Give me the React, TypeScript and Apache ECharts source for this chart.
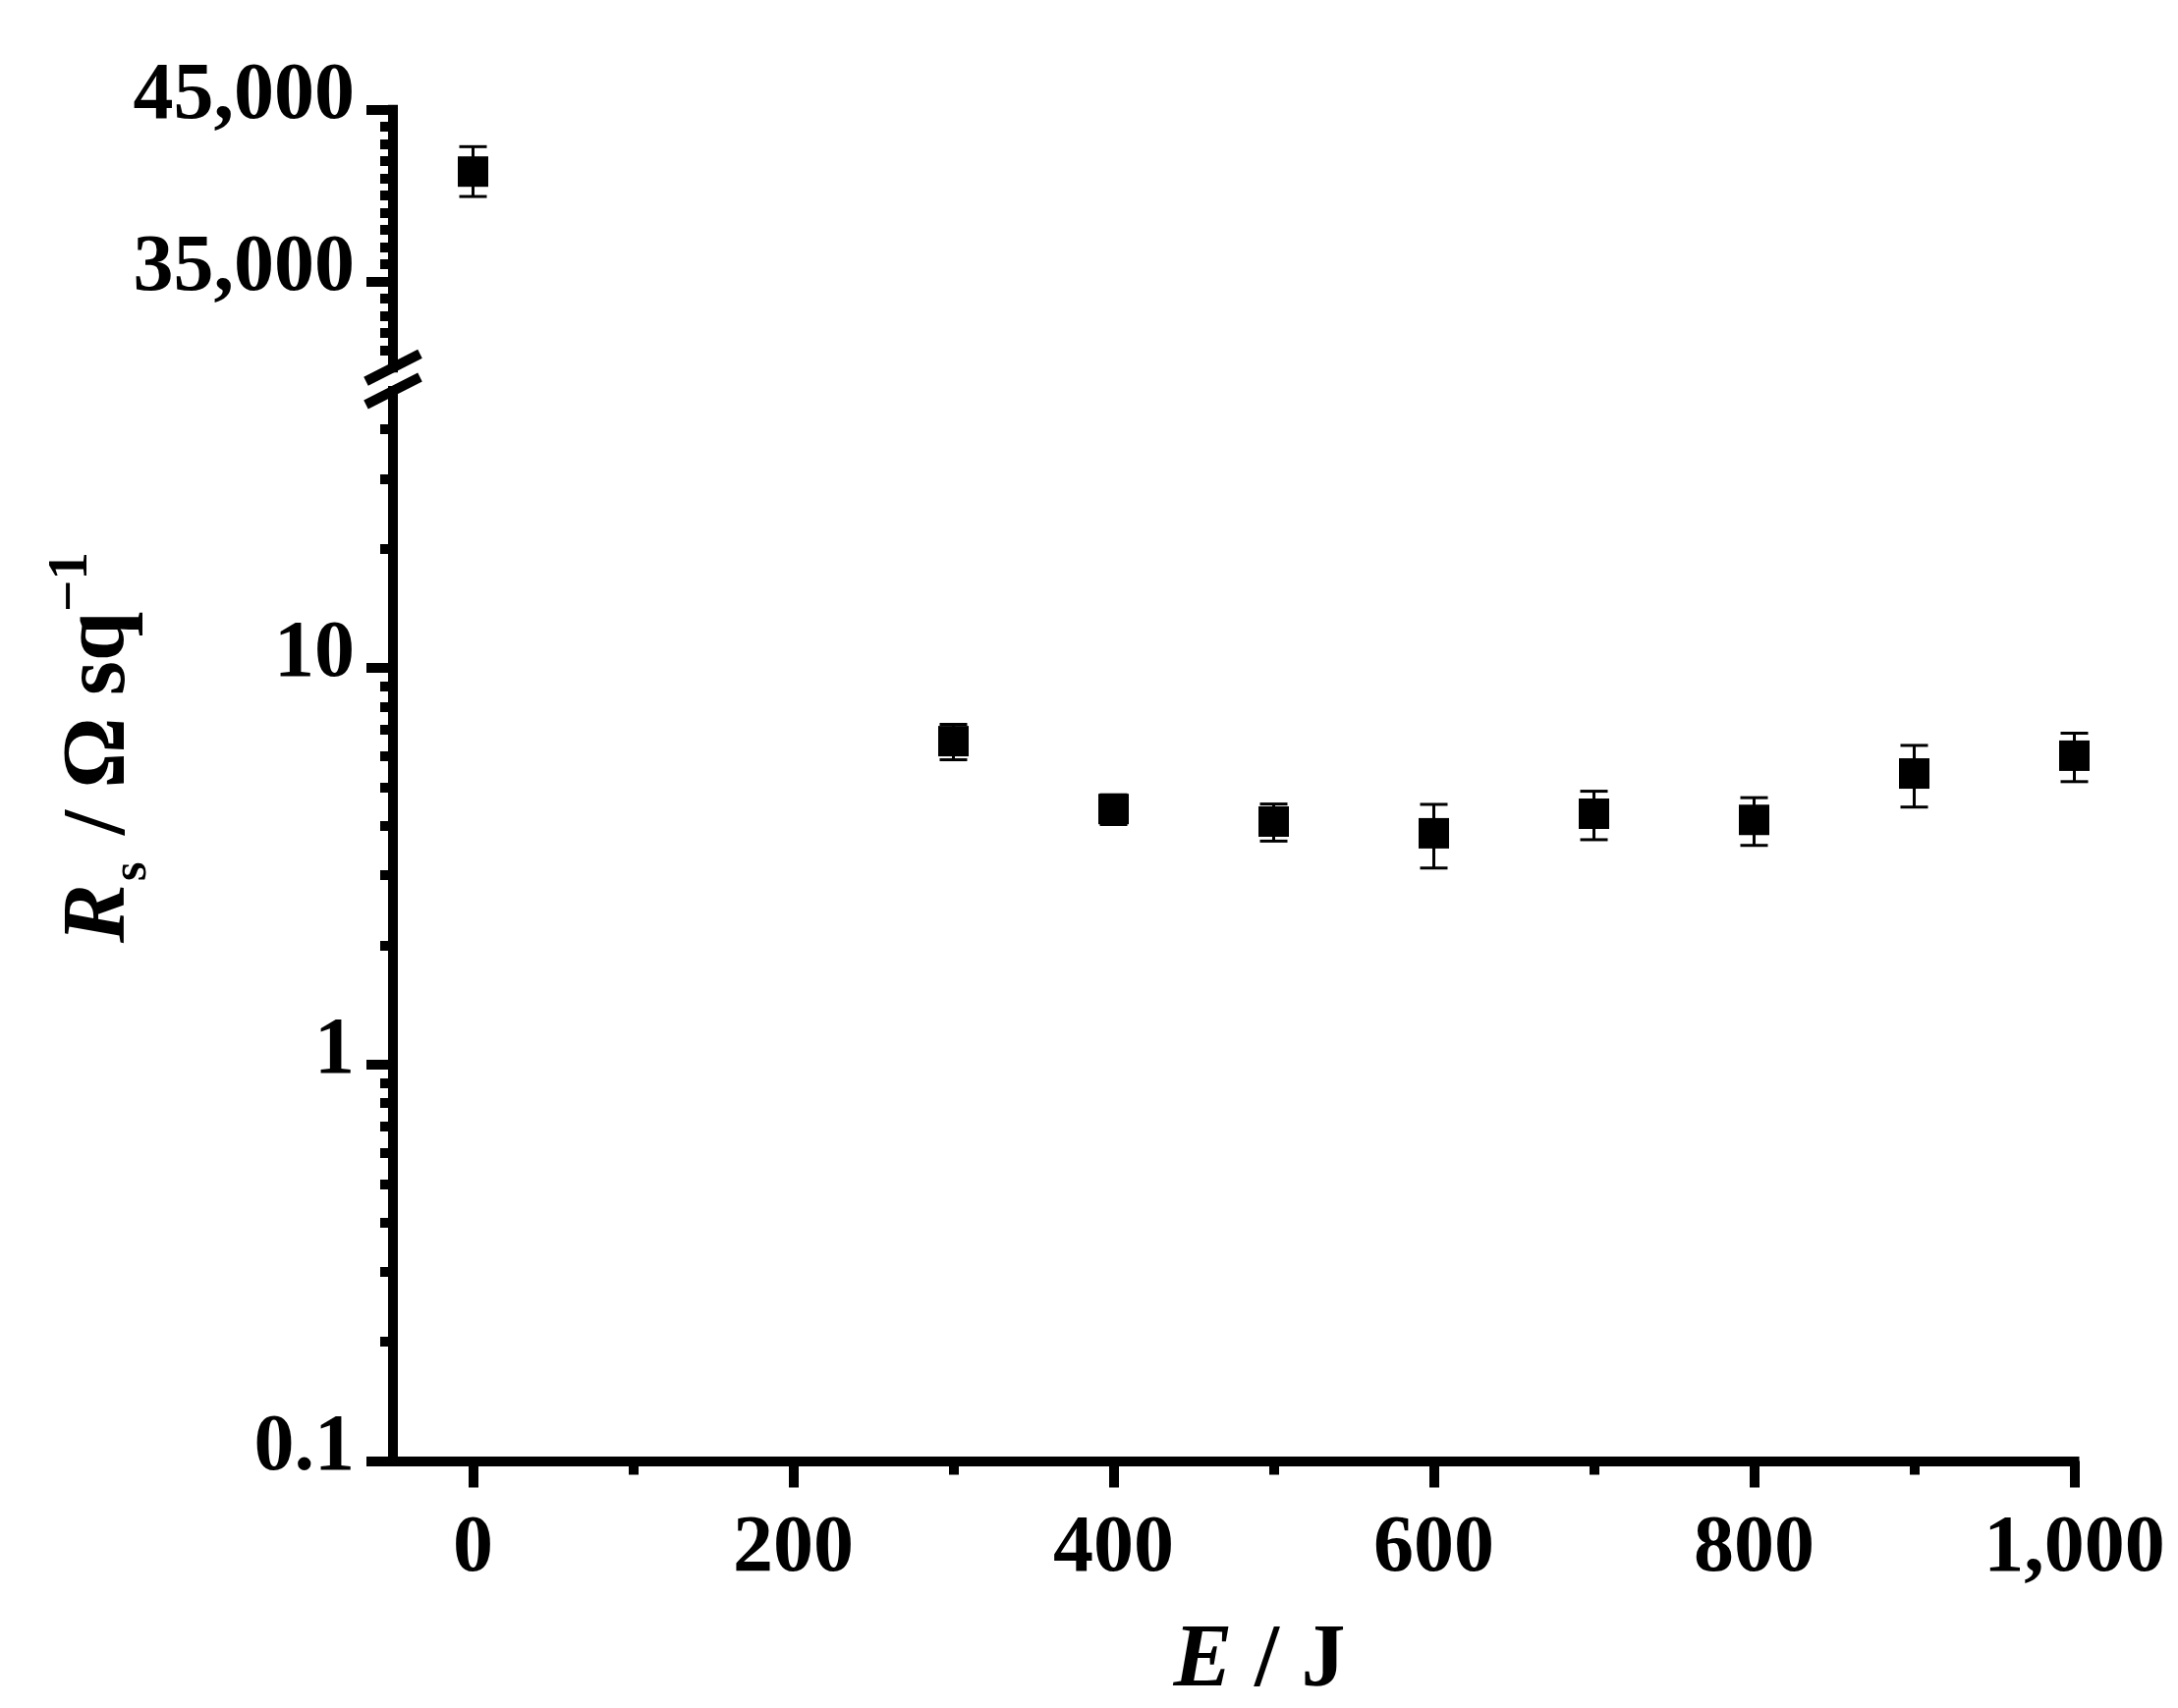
import React, { useEffect, useRef } from 'react';
import * as echarts from 'echarts';

// ---- data ----
const xUpper = [0];
const yUpper = [41400];
const errUpper = [1450];

const xLower = [300, 400, 500, 600, 700, 800, 900, 1000];
const yLower = [6.54, 4.41, 4.1, 3.83, 4.29, 4.14, 5.42, 6.01];
const errLower = [0.67, 0.38, 0.44, 0.7, 0.6, 0.57, 0.96, 0.84];

const xMajorTicks = [0, 200, 400, 600, 800, 1000];
const xMinorTicks = [100, 300, 500, 700, 900];
const upperMajorTicks = [35000, 45000];
const upperMinorTicks = [31000, 32000, 33000, 34000, 36000, 37000, 38000, 39000, 40000, 41000, 42000, 43000, 44000];
const lowerMajorTicks = [0.1, 1, 10];
const lowerMinorTicks = [0.2, 0.3, 0.4, 0.5, 0.6, 0.7, 0.8, 0.9, 2, 3, 4, 5, 6, 7, 8, 9, 20, 30, 40];

const X_MIN = -50;
const X_MAX = 1000;
const UP_MIN = 30000;
const UP_MAX = 45000;
const LOW_MIN = 0.1;
const LOW_MAX = 50;

// ---- layout ----
const W = 2217;
const H = 1739;
const LEFT = 400;
const RIGHT = W - 2111.5;
const UP_TOP = 111.7;
const UP_BOTTOM = 374.2;
const LOW_TOP = 398;
const LOW_BOTTOM = 1487.5;
const FONT = '"Liberation Serif", "Times New Roman", serif';
const LW = 10;

const fmtComma = (v: number) => Math.round(v).toLocaleString('en-US');

function errorRender(params: any, api: any) {
  const x = api.value(0);
  const y = api.value(1);
  const e = api.value(2);
  const top = api.coord([x, y + e]);
  const bot = api.coord([x, y - e]);
  const hw = 14;
  const st = { stroke: '#000', lineWidth: 3 };
  return {
    type: 'group',
    children: [
      { type: 'line', shape: { x1: top[0], y1: top[1], x2: bot[0], y2: bot[1] }, style: st },
      { type: 'line', shape: { x1: top[0] - hw, y1: top[1], x2: top[0] + hw, y2: top[1] }, style: st },
      { type: 'line', shape: { x1: bot[0] - hw, y1: bot[1], x2: bot[0] + hw, y2: bot[1] }, style: st },
    ],
  };
}

const labelStyle = {
  color: '#000',
  fontFamily: FONT,
  fontWeight: 'bold' as const,
  fontSize: 82,
};

export default function App() {
  const ref = useRef<HTMLDivElement>(null);
  useEffect(() => {
    document.body.style.margin = '0';
    if (!ref.current) return;
    const chart = echarts.init(ref.current, undefined, { renderer: 'svg' });
    const axisLine = { show: true, onZero: false, lineStyle: { color: '#000', width: LW, cap: 'square' } };
    const noLine = { show: false, onZero: false };
    const tickStyle = { color: '#000', width: LW };
    const yLabel = { ...labelStyle, margin: 39, verticalAlign: 'bottom', lineHeight: 39 };

    const option: any = {
      animation: false,
      backgroundColor: '#fff',
      grid: [
        { left: LEFT, right: RIGHT, top: UP_TOP, height: UP_BOTTOM - UP_TOP },
        { left: LEFT, right: RIGHT, top: LOW_TOP, height: LOW_BOTTOM - LOW_TOP },
      ],
      xAxis: [
        { gridIndex: 0, type: 'value', min: X_MIN, max: X_MAX, show: false, position: 'bottom' },
        {
          gridIndex: 1, type: 'value', min: X_MIN, max: X_MAX, position: 'bottom',
          axisLine,
          axisTick: { show: true, customValues: xMajorTicks, length: 27, lineStyle: tickStyle },
          axisLabel: { ...labelStyle, customValues: xMajorTicks, margin: 43, formatter: (v: number) => fmtComma(v) },
          splitLine: { show: false },
        },
        {
          gridIndex: 1, type: 'value', min: X_MIN, max: X_MAX, position: 'bottom',
          axisLine: noLine,
          axisTick: { show: true, customValues: xMinorTicks, length: 14, lineStyle: tickStyle },
          axisLabel: { show: false },
          splitLine: { show: false },
        },
      ],
      yAxis: [
        {
          gridIndex: 0, type: 'value', min: UP_MIN, max: UP_MAX, position: 'left',
          axisLine,
          axisTick: { show: true, customValues: upperMajorTicks, length: 27, lineStyle: tickStyle },
          axisLabel: { ...yLabel, customValues: upperMajorTicks, formatter: (v: number) => fmtComma(v) },
          splitLine: { show: false },
        },
        {
          gridIndex: 0, type: 'value', min: UP_MIN, max: UP_MAX, position: 'left',
          axisLine: noLine,
          axisTick: { show: true, customValues: upperMinorTicks, length: 13, lineStyle: tickStyle },
          axisLabel: { show: false },
          splitLine: { show: false },
        },
        {
          gridIndex: 1, type: 'log', logBase: 10, min: LOW_MIN, max: LOW_MAX, position: 'left',
          axisLine,
          axisTick: { show: true, customValues: lowerMajorTicks, length: 27, lineStyle: tickStyle },
          axisLabel: { ...yLabel, customValues: lowerMajorTicks, formatter: (v: number) => String(+Number(v).toPrecision(3)) },
          splitLine: { show: false },
        },
        {
          gridIndex: 1, type: 'log', logBase: 10, min: LOW_MIN, max: LOW_MAX, position: 'left',
          axisLine: noLine,
          axisTick: { show: true, customValues: lowerMinorTicks, length: 13, lineStyle: tickStyle },
          axisLabel: { show: false },
          splitLine: { show: false },
        },
      ],
      series: [
        {
          type: 'custom', xAxisIndex: 0, yAxisIndex: 0, z: 1,
          data: xUpper.map((x, i) => [x, yUpper[i], errUpper[i]]),
          encode: { x: 0, y: 1 },
          renderItem: errorRender,
        },
        {
          type: 'scatter', xAxisIndex: 0, yAxisIndex: 0, z: 2,
          symbol: 'rect', symbolSize: 31,
          itemStyle: { color: '#000', opacity: 1 },
          data: xUpper.map((x, i) => [x, yUpper[i]]),
        },
        {
          type: 'custom', xAxisIndex: 1, yAxisIndex: 2, z: 1,
          data: xLower.map((x, i) => [x, yLower[i], errLower[i]]),
          encode: { x: 0, y: 1 },
          renderItem: errorRender,
        },
        {
          type: 'scatter', xAxisIndex: 1, yAxisIndex: 2, z: 2,
          symbol: 'rect', symbolSize: 31,
          itemStyle: { color: '#000', opacity: 1 },
          data: xLower.map((x, i) => [x, yLower[i]]),
        },
      ],
      graphic: [
        // axis break marks
        { type: 'line', shape: { x1: LEFT - 27.5, y1: UP_BOTTOM + 14, x2: LEFT + 27.5, y2: UP_BOTTOM - 14 }, style: { stroke: '#000', lineWidth: LW }, z: 100 },
        { type: 'line', shape: { x1: LEFT - 27.5, y1: LOW_TOP + 14, x2: LEFT + 27.5, y2: LOW_TOP - 14 }, style: { stroke: '#000', lineWidth: LW }, z: 100 },
        // x-axis title
        {
          type: 'text', x: 1282, y: 1685, z: 100,
          style: {
            text: '{i|E}{b| / J}',
            align: 'center', verticalAlign: 'middle',
            rich: {
              i: { fontFamily: FONT, fontWeight: 'bold', fontStyle: 'italic', fontSize: 90, fill: '#000' },
              b: { fontFamily: FONT, fontWeight: 'bold', fontSize: 90, fill: '#000' },
            },
          },
        },
        // y-axis title (rotated)
        {
          type: 'group', x: 125, y: 960, rotation: Math.PI / 2, z: 100,
          children: [
            { type: 'text', x: 0, y: -30, style: { text: 'R', fontFamily: FONT, fontWeight: 'bold', fontStyle: 'italic', fontSize: 90, fill: '#000', verticalAlign: 'middle', align: 'left' } },
            { type: 'text', x: 63, y: 6, style: { text: 's', fontFamily: FONT, fontWeight: 'bold', fontSize: 50, fill: '#000', verticalAlign: 'middle', align: 'left' } },
            { type: 'text', x: 110, y: -30, style: { text: '/ Ω sq', fontFamily: FONT, fontWeight: 'bold', fontSize: 90, fill: '#000', verticalAlign: 'middle', align: 'left' } },
            { type: 'text', x: 337, y: -57, style: { text: '−1', fontFamily: FONT, fontWeight: 'bold', fontSize: 57, fill: '#000', verticalAlign: 'middle', align: 'left' } },
          ],
        },
      ],
    };
    chart.setOption(option);
    return () => chart.dispose();
  }, []);
  return <div ref={ref} style={{ width: W, height: H }} />;
}
